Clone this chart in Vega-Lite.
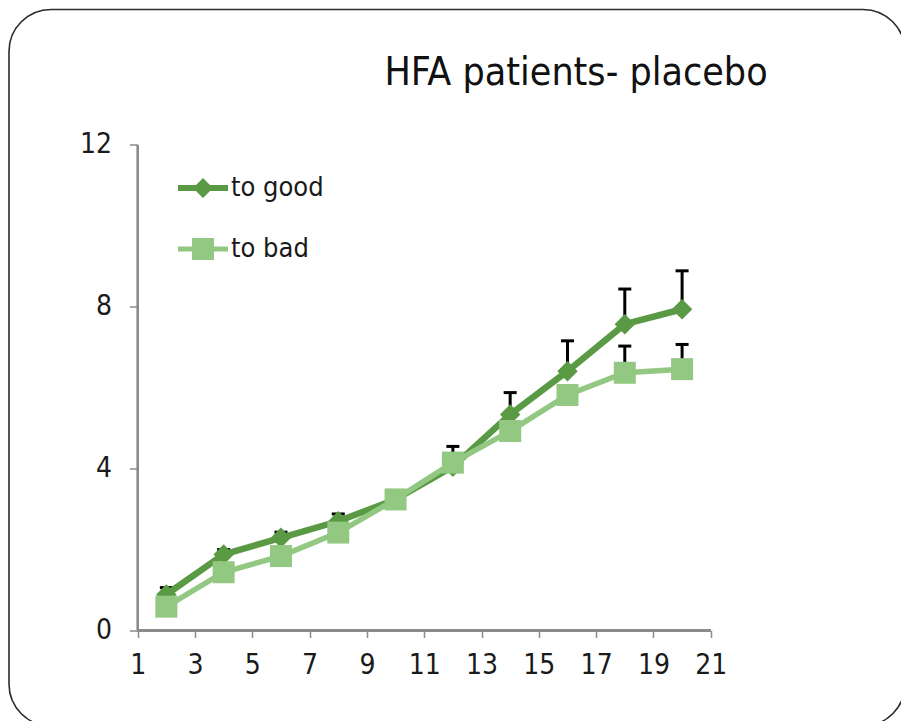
{
  "$schema": "https://vega.github.io/schema/vega-lite/v6.json",
  "width": 896,
  "height": 716.5,
  "autosize": {"type": "none"},
  "padding": {"left": 9, "top": 9.5, "right": 0, "bottom": 0},
  "background": "white",
  "config": {
    "view": {"stroke": "#2b2b2b", "strokeWidth": 1.6, "cornerRadius": 42},
    "font": "Liberation Sans Narrow, DejaVu Sans Condensed, Open Sans"
  },
  "title": {
    "text": "HFA patients- placebo",
    "fontSize": 39,
    "font": "Liberation Sans Narrow, DejaVu Sans Condensed, Open Sans",
    "fontWeight": "normal",
    "color": "#111111",
    "anchor": "middle",
    "frame": "group",
    "dx": 119,
    "baseline": "alphabetic",
    "offset": -114
  },
  "datasets": {
    "pts": [
      {"x": 2, "series": "to good", "value": 0.89, "upper": 1.06},
      {"x": 4, "series": "to good", "value": 1.88, "upper": 2.0},
      {"x": 6, "series": "to good", "value": 2.29, "upper": 2.43},
      {"x": 8, "series": "to good", "value": 2.7, "upper": 2.88},
      {"x": 10, "series": "to good", "value": 3.24, "upper": null},
      {"x": 12, "series": "to good", "value": 4.05, "upper": 4.55},
      {"x": 14, "series": "to good", "value": 5.34, "upper": 5.88},
      {"x": 16, "series": "to good", "value": 6.41, "upper": 7.16},
      {"x": 18, "series": "to good", "value": 7.57, "upper": 8.44},
      {"x": 20, "series": "to good", "value": 7.94, "upper": 8.89},
      {"x": 2, "series": "to bad", "value": 0.59, "upper": null},
      {"x": 4, "series": "to bad", "value": 1.44, "upper": null},
      {"x": 6, "series": "to bad", "value": 1.84, "upper": null},
      {"x": 8, "series": "to bad", "value": 2.42, "upper": null},
      {"x": 10, "series": "to bad", "value": 3.24, "upper": null},
      {"x": 12, "series": "to bad", "value": 4.15, "upper": null},
      {"x": 14, "series": "to bad", "value": 4.93, "upper": null},
      {"x": 16, "series": "to bad", "value": 5.82, "upper": null},
      {"x": 18, "series": "to bad", "value": 6.37, "upper": 7.03},
      {"x": 20, "series": "to bad", "value": 6.46, "upper": 7.07}
    ]
  },
  "data": {"name": "pts"},
  "layer": [
    {
      "mark": {"type": "rule", "color": "#8a8a8a", "strokeWidth": 1.5},
      "encoding": {
        "x": {
          "datum": 1, "type": "quantitative", "title": null,
          "scale": {"domain": [-3.492, 27.78], "nice": false, "zero": false},
          "axis": {
            "values": [1, 3, 5, 7, 9, 11, 13, 15, 17, 19, 21],
            "offset": -95.5, "domain": false, "grid": false,
            "tickSize": 7, "tickColor": "#8a8a8a", "tickWidth": 1.5,
            "labelFontSize": 28, "labelColor": "#1a1a1a", "labelPadding": 14,
            "labelFont": "Liberation Sans Narrow, DejaVu Sans Condensed, Open Sans"
          }
        },
        "y": {
          "datum": 0, "type": "quantitative", "title": null,
          "scale": {"domain": [-2.3605, 15.349], "nice": false, "zero": false},
          "axis": {
            "values": [0, 4, 8, 12],
            "offset": -128.5, "domain": false, "grid": false,
            "tickSize": 8, "tickColor": "#8a8a8a", "tickWidth": 1.5,
            "labelFontSize": 28, "labelColor": "#1a1a1a", "labelPadding": 18,
            "labelFont": "Liberation Sans Narrow, DejaVu Sans Condensed, Open Sans"
          }
        },
        "y2": {"datum": 12}
      }
    },
    {
      "mark": {"type": "rule", "color": "#8a8a8a", "strokeWidth": 1.5},
      "encoding": {
        "x": {"datum": 1, "type": "quantitative", "title": null},
        "x2": {"datum": 21},
        "y": {"datum": 0, "type": "quantitative", "title": null}
      }
    },
    {
      "transform": [{"filter": "datum.upper != null"}],
      "mark": {"type": "rule", "color": "black", "strokeWidth": 3},
      "encoding": {
        "x": {"field": "x", "type": "quantitative", "title": null},
        "y": {"field": "value", "type": "quantitative", "title": null},
        "y2": {"field": "upper"}
      }
    },
    {
      "transform": [{"filter": "datum.upper != null"}],
      "mark": {"type": "tick", "orient": "horizontal", "color": "black", "size": 13, "thickness": 3, "opacity": 1},
      "encoding": {
        "x": {"field": "x", "type": "quantitative", "title": null},
        "y": {"field": "upper", "type": "quantitative", "title": null}
      }
    },
    {
      "transform": [{"filter": "datum.series === 'to good'"}],
      "mark": {"type": "line", "color": "#5a9a44", "strokeWidth": 6.5},
      "encoding": {
        "x": {"field": "x", "type": "quantitative", "title": null},
        "y": {"field": "value", "type": "quantitative", "title": null}
      }
    },
    {
      "transform": [{"filter": "datum.series === 'to good'"}],
      "mark": {"type": "point", "shape": "diamond", "filled": true, "size": 420, "color": "#5a9a44", "opacity": 1},
      "encoding": {
        "x": {"field": "x", "type": "quantitative", "title": null},
        "y": {"field": "value", "type": "quantitative", "title": null}
      }
    },
    {
      "transform": [{"filter": "datum.series === 'to bad'"}],
      "mark": {"type": "line", "color": "#93c883", "strokeWidth": 5.5},
      "encoding": {
        "x": {"field": "x", "type": "quantitative", "title": null},
        "y": {"field": "value", "type": "quantitative", "title": null}
      }
    },
    {
      "transform": [{"filter": "datum.series === 'to bad'"}],
      "mark": {"type": "point", "shape": "square", "filled": true, "size": 484, "color": "#93c883", "opacity": 1},
      "encoding": {
        "x": {"field": "x", "type": "quantitative", "title": null},
        "y": {"field": "value", "type": "quantitative", "title": null}
      }
    },
    {
      "transform": [{"filter": "false"}],
      "mark": {"type": "point", "filled": true, "opacity": 1},
      "encoding": {
        "x": {"field": "x", "type": "quantitative", "title": null},
        "y": {"field": "value", "type": "quantitative", "title": null},
        "color": {
          "field": "series", "type": "nominal",
          "scale": {"domain": ["to good", "to bad"], "range": ["#5a9a44", "#93c883"]},
          "legend": {
            "title": null,
            "orient": "none",
            "legendX": 169,
            "legendY": 153.5,
            "padding": 0,
            "symbolSize": 2500,
            "symbolStrokeWidth": 0,
            "symbolOpacity": 1,
            "labelFontSize": 27,
            "labelColor": "#1a1a1a",
            "labelFont": "Liberation Sans Narrow, DejaVu Sans Condensed, Open Sans",
            "labelOffset": 3,
            "rowPadding": 23
          }
        },
        "shape": {
          "field": "series", "type": "nominal",
          "scale": {
            "domain": ["to good", "to bad"],
            "range": [
              "M-1,-0.12H1V0.12H-1Z M0,-0.4L0.4,0L0,0.4L-0.4,0Z",
              "M-1,-0.1H1V0.1H-1Z M-0.44,-0.44H0.44V0.44H-0.44Z"
            ]
          },
          "legend": {
            "title": null,
            "orient": "none",
            "legendX": 169,
            "legendY": 153.5,
            "padding": 0,
            "symbolSize": 2500,
            "symbolStrokeWidth": 0,
            "symbolOpacity": 1,
            "labelFontSize": 27,
            "labelColor": "#1a1a1a",
            "labelFont": "Liberation Sans Narrow, DejaVu Sans Condensed, Open Sans",
            "labelOffset": 3,
            "rowPadding": 23
          }
        }
      }
    }
  ]
}
